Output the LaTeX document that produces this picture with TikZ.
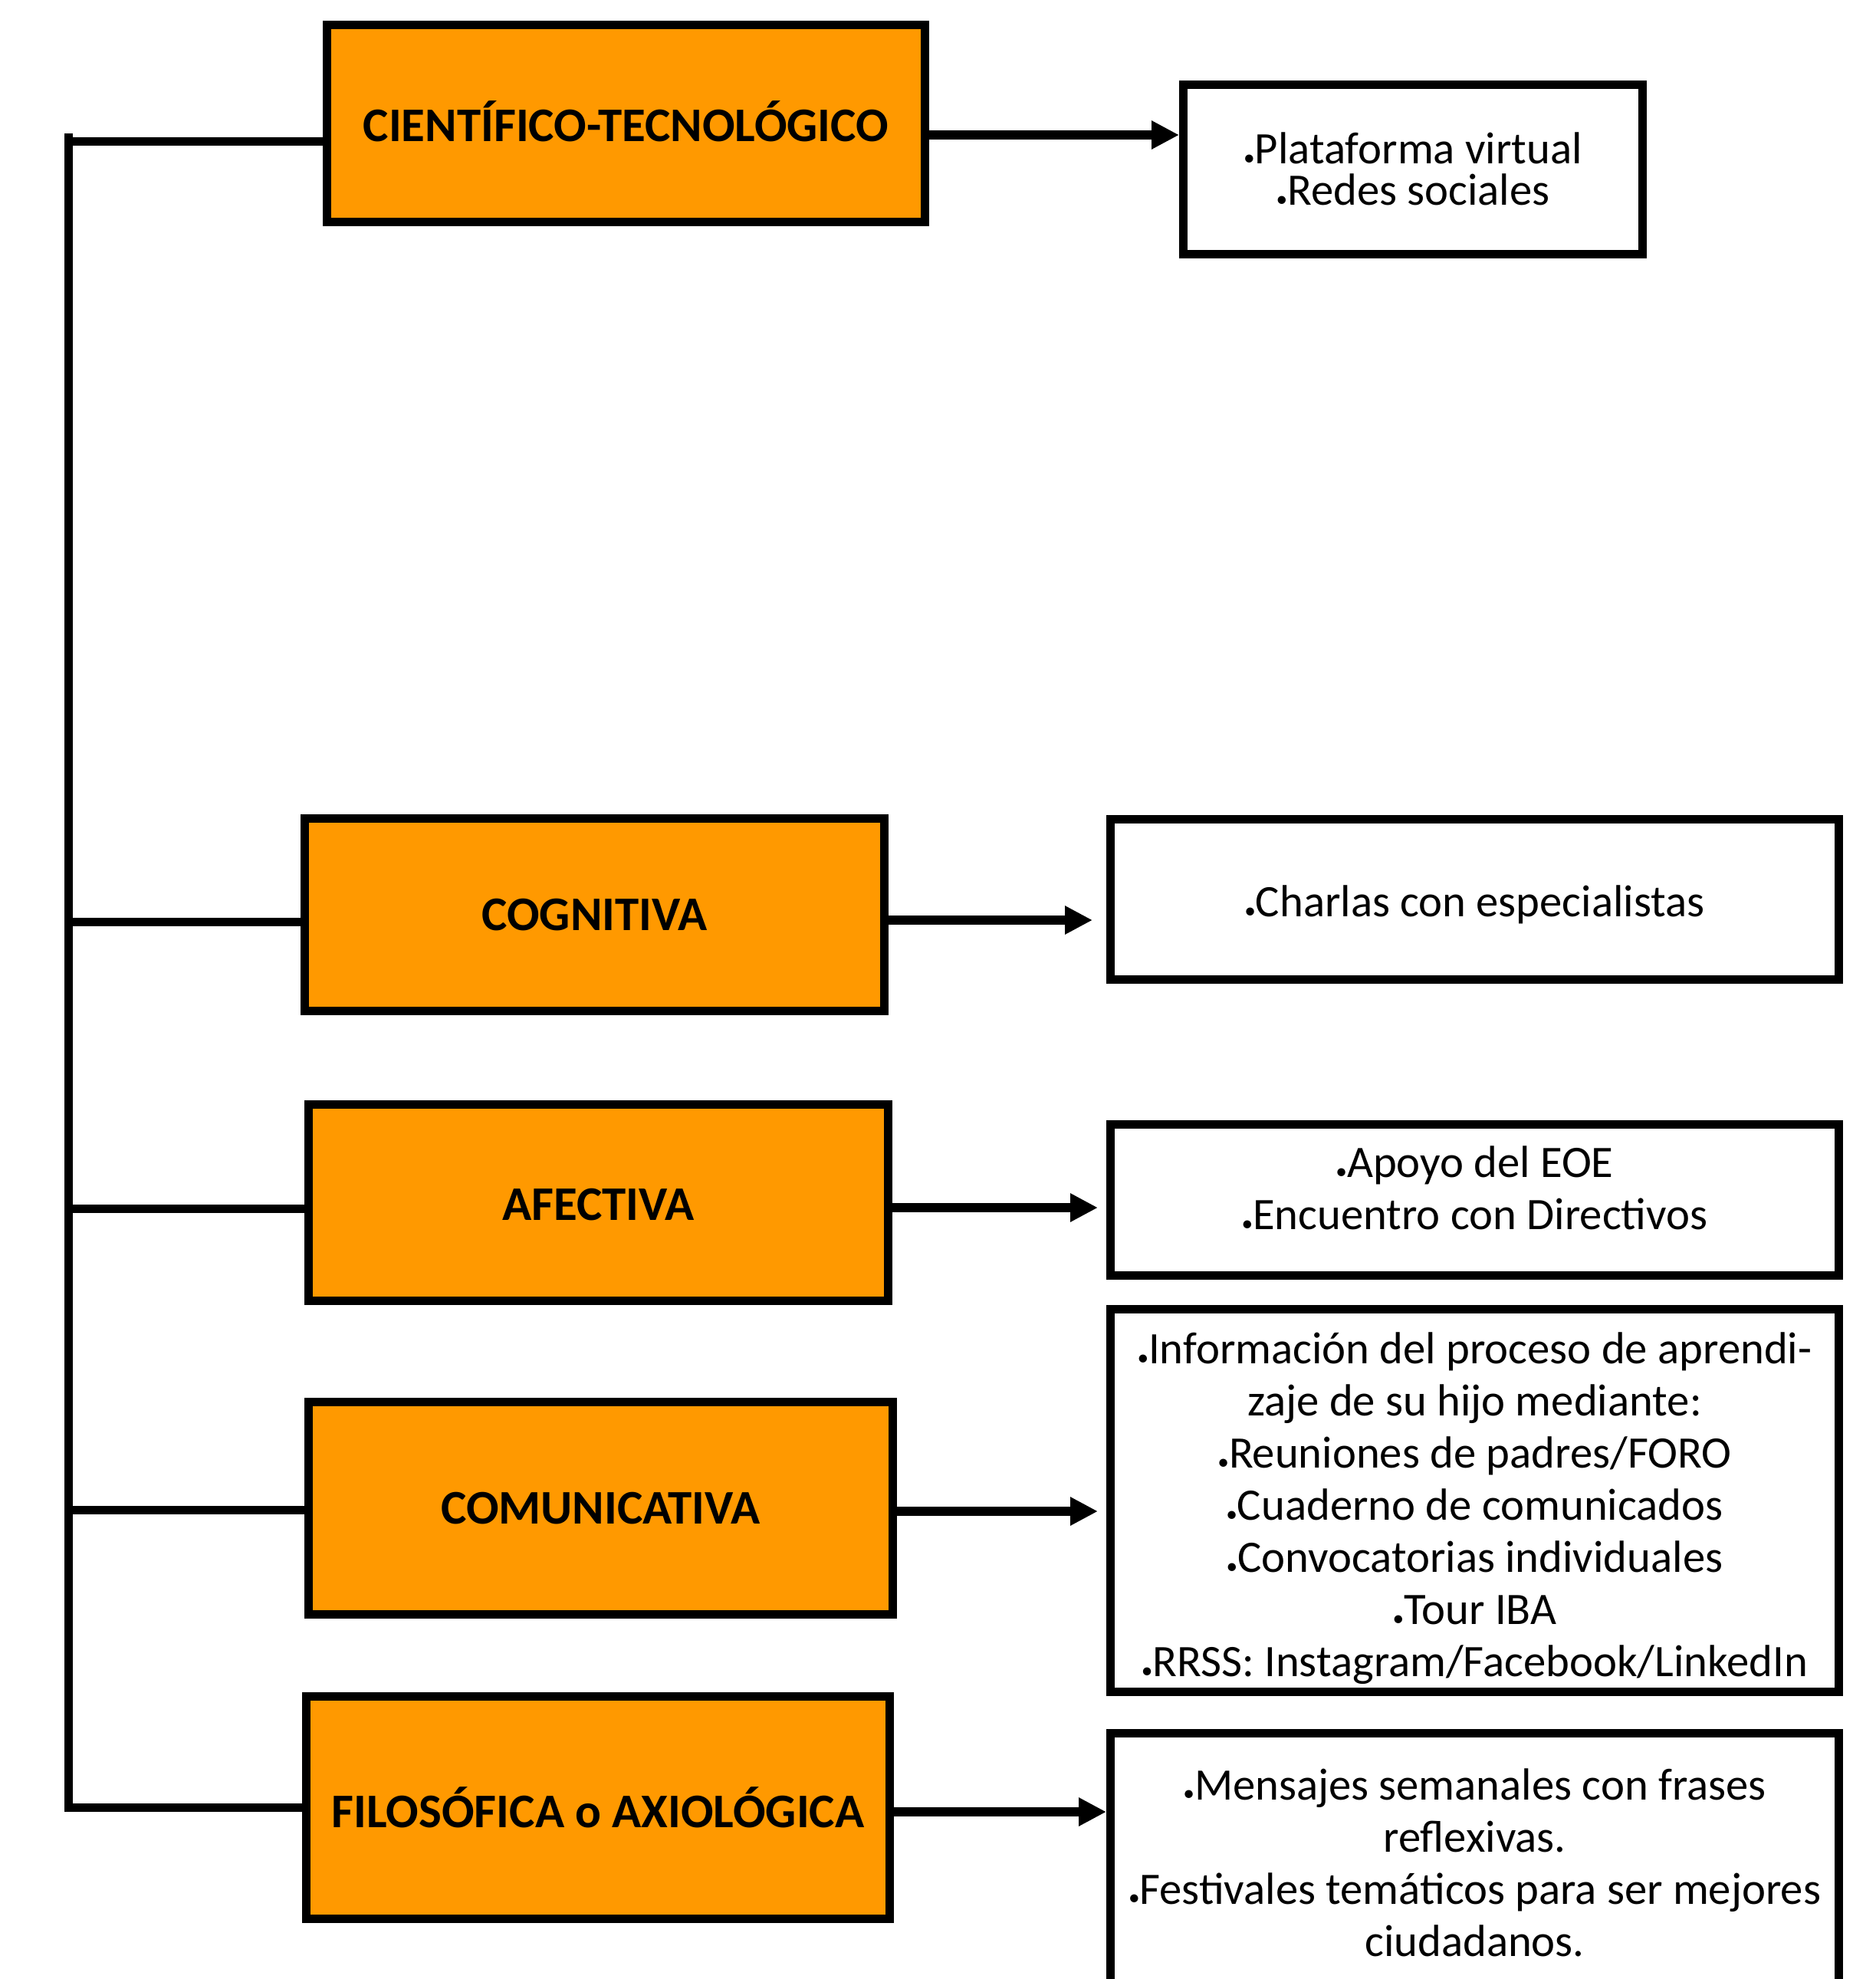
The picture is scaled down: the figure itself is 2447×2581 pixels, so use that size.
\documentclass[tikz,border=0pt]{standalone}
\usepackage{graphicx}
\usepackage{fontspec}
\setmainfont{Carlito}
\usetikzlibrary{arrows.meta}
\definecolor{orng}{RGB}{255,153,0}
\newcommand\bul{\raisebox{-0.03em}{\scalebox{0.5}{•}}}
\newcommand\catfont{\fontsize{63pt}{76pt}\selectfont\bfseries}
\newcommand\itemfont{\fontsize{58.7pt}{68pt}\selectfont}
\newcommand\itemfonttight{\fontsize{58.7pt}{54pt}\selectfont}
\tikzset{
  catbox/.style={draw=black, line width=11pt, fill=orng, font=\catfont, inner sep=0pt},
  itembox/.style={draw=black, line width=11pt, fill=white, font=\itemfont, align=center, inner sep=0pt},
  link/.style={line width=11pt},
  arr/.style={line width=12pt, -{Triangle[length=36pt,width=35pt]}},
}
\begin{document}
\begin{tikzpicture}[x=1pt,y=-1pt]
\useasboundingbox (0,0) rectangle (2447,2581);
\clip (0,0) rectangle (2447,2581);

% category boxes
\node[catbox, minimum width=780pt, minimum height=257pt] (c1) at (816.5,161) {CIENTÍFICO-TECNOLÓGICO\rule[-6pt]{0pt}{0pt}};
\node[catbox, minimum width=756pt, minimum height=251pt] (c2) at (775.5,1193) {COGNITIVA};
\node[catbox, minimum width=756pt, minimum height=256pt] (c3) at (780.5,1568.5) {AFECTIVA\rule{0pt}{46pt}};
\node[catbox, minimum width=762pt, minimum height=277pt] (c4) at (783.5,1967) {COMUNICATIVA};
\node[catbox, minimum width=761pt, minimum height=290pt] (c5) at (780,2357.5) {FILOSÓFICA o AXIOLÓGICA};

% item boxes
\node[itembox, font=\itemfonttight, minimum width=599pt, minimum height=221pt] (r1) at (1843,221)
  {\bul Plataforma virtual\\\bul Redes sociales};
\node[itembox, minimum width=950pt, minimum height=209pt] (r2) at (1923.5,1173)
  {\rule{0pt}{55pt}\bul Charlas con especialistas};
\node[itembox, minimum width=950pt, minimum height=197pt] (r3) at (1923.5,1565)
  {\bul Apoyo del EOE\\\bul Encuentro con Directivos\rule[-31pt]{0pt}{31pt}};
\node[itembox, minimum width=950pt, minimum height=499pt] (r4) at (1923.5,1957)
  {\rule{0pt}{61pt}\bul Información del proceso de aprendi-\\zaje de su hijo mediante:\\\bul Reuniones de padres/FORO\\\bul Cuaderno de comunicados\\\bul Convocatorias individuales\\\bul Tour IBA\\\bul RRSS: Instagram/Facebook/LinkedIn};
\node[itembox, minimum width=950pt, minimum height=337pt] (r5) at (1923.5,2429)
  {\bul Mensajes semanales con frases\\reflexivas.\\\bul Festivales temáticos para ser mejores\\ciudadanos.};

% trunk
\coordinate (top) at (89,174);
\coordinate (bot) at (89,2363);
\draw[link] (top) -- (bot);

% level coordinates on the trunk
\coordinate (t1) at (89,184);
\coordinate (t2) at (89,1202);
\coordinate (t3) at (89,1576);
\coordinate (t4) at (89,1969);
\coordinate (t5) at (89,2357);
\foreach \i in {1,...,5} \draw[link] (t\i) -- (c\i.west |- t\i);

% arrow levels
\coordinate (a1) at (0,176);
\coordinate (a2) at (0,1200);
\coordinate (a3) at (0,1575);
\coordinate (a4) at (0,1971);
\coordinate (a5) at (0,2363);
\draw[arr] (c1.east |- a1) -- (r1.west |- a1);
\draw[arr, shorten >=18pt] (c2.east |- a2) -- (r2.west |- a2);
\draw[arr, shorten >=11pt] (c3.east |- a3) -- (r3.west |- a3);
\draw[arr, shorten >=11pt] (c4.east |- a4) -- (r4.west |- a4);
\draw[arr] (c5.east |- a5) -- (r5.west |- a5);
\end{tikzpicture}
\end{document}
